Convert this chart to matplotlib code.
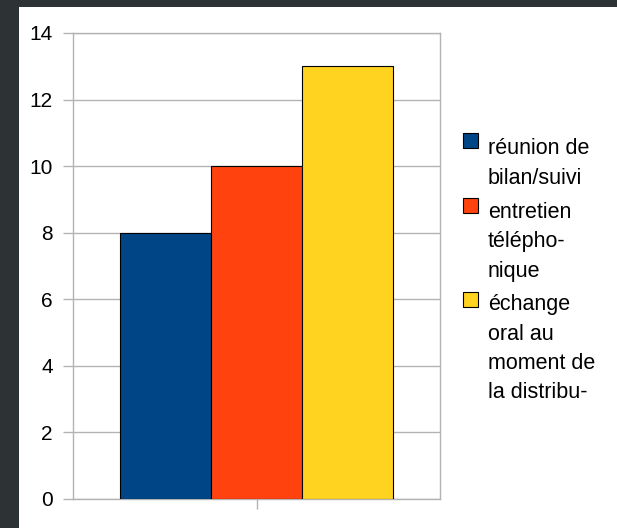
import matplotlib.pyplot as plt
from matplotlib.patches import Rectangle

plt.rcParams['font.family'] = ['Liberation Sans', 'DejaVu Sans']

# données
series = ['réunion de\nbilan/suivi', 'entretien\ntélépho-\nnique',
          'échange\noral au\nmoment de\nla distribu-']
valeurs = [8, 10, 13]
couleurs = ['#004586', '#ff420e', '#ffd320']
yticks = [0, 2, 4, 6, 8, 10, 12, 14]

W, H = 617, 528
fig = plt.figure(figsize=(W / 100, H / 100), dpi=100, facecolor='#2d3235')
# panneau blanc
fig.patches.append(Rectangle((19 / W, 0), 1 - 19 / W, 1 - 7 / H,
                             transform=fig.transFigure, facecolor='white',
                             edgecolor='none', zorder=-5))

ax = fig.add_axes([73 / W, 29 / H, (440 - 73) / W, (499 - 33) / H], zorder=1)
ax.set_facecolor('white')

pos = [i - (len(valeurs) - 1) / 2 for i in range(len(valeurs))]
for x, v, c in zip(pos, valeurs, couleurs):
    ax.bar(x, v, width=1.0, color=c, edgecolor='black', linewidth=0.8, zorder=3)

ax.set_xlim(-2.01, 2.01)
ax.set_ylim(0, 14)
ax.set_yticks(yticks)
ax.set_xticks([0])
ax.set_xticklabels([''])
ax.grid(axis='y', color='#b3b3b3', linewidth=1, zorder=0)
for s in ax.spines.values():
    s.set_color('#b3b3b3')
    s.set_linewidth(1)
ax.tick_params(axis='y', length=7.5, width=1, color='#b3b3b3', pad=7,
               labelsize=15, labelcolor='black')
ax.tick_params(axis='x', length=7, width=1, color='#b3b3b3')

# légende (lignes posées une à une)
bases = [154, 218, 310]
carres = [133, 198, 292]
interligne = 29.5
for lab, c, b, t in zip(series, couleurs, bases, carres):
    fig.patches.append(Rectangle((463 / W, 1 - (t + 15) / H), 15 / W, 15 / H,
                                 transform=fig.transFigure, facecolor=c,
                                 edgecolor='black', linewidth=0.8, zorder=3))
    for k, ligne in enumerate(lab.split('\n')):
        fig.text(488 / W, 1 - (b + k * interligne) / H, ligne, ha='left',
                 va='baseline', fontsize=15.5)

fig.savefig('out.png', dpi=100, facecolor=fig.get_facecolor())
